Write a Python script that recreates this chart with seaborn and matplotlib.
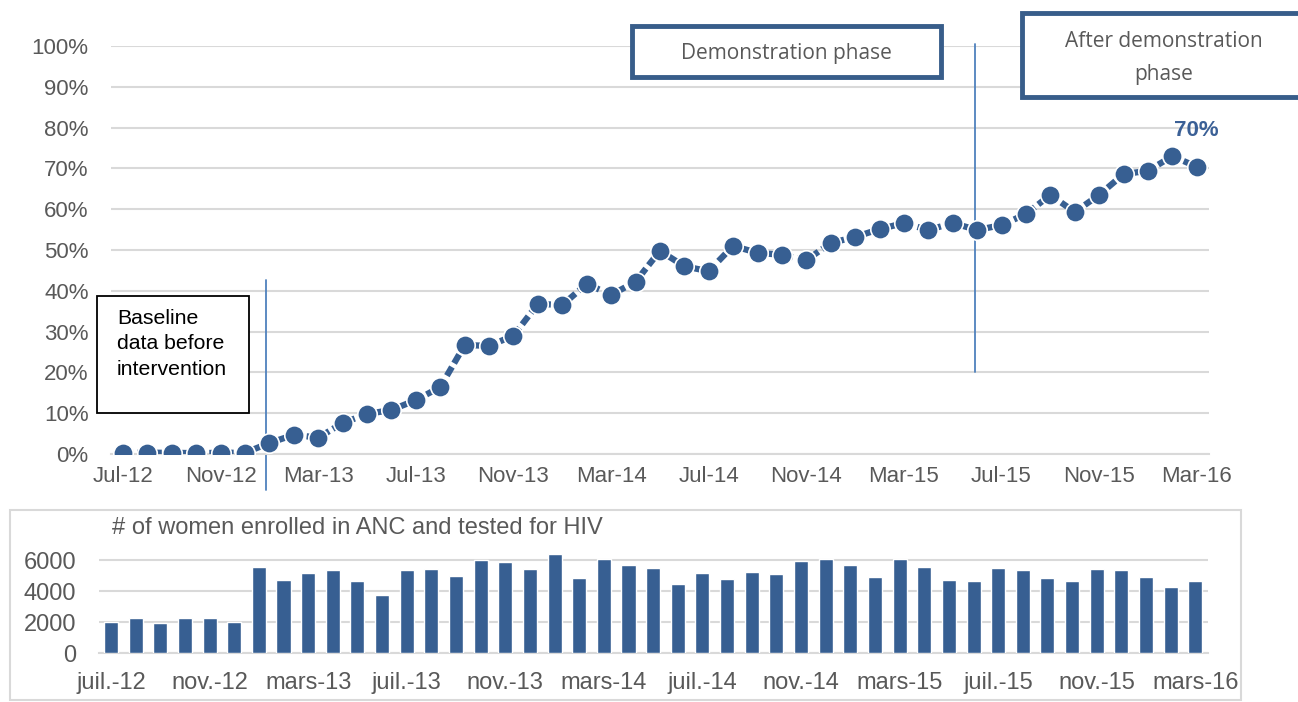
import matplotlib.pyplot as plt
import matplotlib.patches as mpatches
import matplotlib.ticker as mticker
import seaborn as sns
import pandas as pd

# monthly series, Jul-2012 .. Mar-2016
months = pd.date_range("2012-07-01", "2016-03-01", freq="MS")
pct_tested = [0.3, 0.3, 0.3, 0.2, 0.3, 0.3, 2.7, 4.7, 4.0, 7.6, 9.8, 10.8,
              13.2, 16.4, 26.7, 26.5, 29.0, 36.8, 36.5, 41.7, 39.0, 42.2, 49.8, 46.0,
              44.8, 51.0, 49.3, 48.8, 47.5, 51.7, 53.2, 55.1, 56.6, 54.9, 56.6, 54.9,
              56.1, 58.8, 63.5, 59.3, 63.5, 68.6, 69.4, 73.0, 70.4]
women_tested = [1970, 2250, 1950, 2270, 2270, 2030, 5520, 4680, 5150, 5350, 4660, 3750,
                5350, 5390, 4940, 6000, 5880, 5420, 6400, 4840, 6040, 5650, 5480, 4440,
                5160, 4770, 5200, 5110, 5950, 6040, 5670, 4900, 6060, 5540, 4680, 4640,
                5480, 5330, 4830, 4640, 5440, 5370, 4920, 4270, 4660]
top_tick_labels = ["Jul-12", "Nov-12", "Mar-13", "Jul-13", "Nov-13", "Mar-14",
                   "Jul-14", "Nov-14", "Mar-15", "Jul-15", "Nov-15", "Mar-16"]
bottom_tick_labels = ["juil.-12", "nov.-12", "mars-13", "juil.-13", "nov.-13", "mars-14",
                      "juil.-14", "nov.-14", "mars-15", "juil.-15", "nov.-15", "mars-16"]
pct_ticks = [0, 10, 20, 30, 40, 50, 60, 70, 80, 90, 100]
count_ticks = [0, 2000, 4000, 6000]

df = pd.DataFrame({"month": months, "pct": pct_tested, "women": women_tested})
df["pos"] = range(len(df))

BLUE = "#375F92"
GRID = "#D9D9D9"
TXT = "#595959"

sns.set_style("white")
plt.rcParams["font.family"] = ["Liberation Sans", "DejaVu Sans"]

fig = plt.figure(figsize=(12.98, 7.02), dpi=100)

# ---- top chart: % tested ----
ax = fig.add_axes([0.0854, 0.3533, 0.846, 0.5812])
sns.lineplot(data=df, x="pos", y="pct", ax=ax, color=BLUE, lw=4.5,
             linestyle=(0, (1.6, 0.7)), marker="o", markersize=14,
             markeredgecolor="white", markeredgewidth=1.2, zorder=3)
ax.set_xlim(-0.5, len(df) - 0.5)
ax.set_ylim(0, 100)
ax.set_yticks(pct_ticks)
ax.yaxis.set_major_formatter(mticker.FuncFormatter(lambda v, p: f"{int(v)}%"))
ax.grid(axis="y", color=GRID, lw=1.5)
label_pos = list(range(0, len(df), 4))
ax.set_xticks(label_pos)
ax.set_xticklabels(top_tick_labels)
ax.set_xticks([p - 0.5 for p in label_pos], minor=True)
ax.tick_params(axis="x", which="major", length=0, pad=9, labelsize=16, labelcolor=TXT)
ax.tick_params(axis="x", which="minor", length=5, width=1.2, color=GRID)
ax.tick_params(axis="y", length=0, pad=16, labelsize=16, labelcolor=TXT)
for s in ["top", "right", "left"]:
    ax.spines[s].set_visible(False)
ax.spines["bottom"].set_color(GRID)
ax.spines["bottom"].set_linewidth(1.5)
ax.set_xlabel("")
ax.set_ylabel("")

# last value label
ax.annotate(f"{int(pct_tested[-1])}%", (df["pos"].iloc[-1], pct_tested[-1]),
            xytext=(0, 26), textcoords="offset points", ha="center", va="center",
            fontsize=16, fontweight="bold", color="#3B6096")

# phase separators
ax.plot([5.85, 5.85], [42.7, -8.8], color="#4F81BD", lw=1.3, clip_on=False, zorder=2)
ax.plot([34.9, 34.9], [100.5, 20.1], color="#4F81BD", lw=1.3, clip_on=False, zorder=2)

# phase boxes (figure coordinates)
W, H = 1298, 702


def fig_box(x0, y0, x1, y1, ec, lw):
    r = mpatches.Rectangle((x0 / W, 1 - y1 / H), (x1 - x0) / W, (y1 - y0) / H,
                           transform=fig.transFigure, fill=True, fc="white",
                           ec=ec, lw=lw, zorder=5, clip_on=False)
    fig.patches.append(r)


fig_box(97, 296, 249, 413, "black", 1.3)
fig.text(117 / W, 1 - 309 / H, "Baseline\ndata before\nintervention", ha="left", va="top",
         fontsize=15.3, color="black", linespacing=1.42, zorder=6)
fig_box(632, 26, 941, 77, "#385D8A", 3.5)
fig.text(786 / W, 1 - 53 / H, "Demonstration phase", ha="center", va="center",
         fontsize=15, color=TXT, family=["Open Sans", "DejaVu Sans"], zorder=6)
fig_box(1022, 13, 1310, 97, "#385D8A", 3.5)
fig.text(1164 / W, 1 - 58 / H, "After demonstration\nphase", ha="center", va="center",
         fontsize=15, color=TXT, family=["Open Sans", "DejaVu Sans"], linespacing=1.75,
         zorder=6)

# ---- bottom chart: women tested ----
ax2 = fig.add_axes([0.076, 0.0698, 0.8544, 0.1457])
sns.barplot(data=df, x="pos", y="women", ax=ax2, color=BLUE, width=0.57,
            saturation=1, zorder=3)
ax2.set_xlim(-0.5, len(df) - 0.5)
ax2.set_ylim(0, 6600)
ax2.set_yticks(count_ticks)
ax2.grid(axis="y", color=GRID, lw=1.5)
ax2.set_axisbelow(True)
ax2.set_xticks(label_pos)
ax2.set_xticklabels(bottom_tick_labels)
ax2.set_xticks([p - 0.5 for p in label_pos], minor=True)
ax2.tick_params(axis="x", which="major", length=0, pad=14, labelsize=17, labelcolor=TXT)
ax2.tick_params(axis="x", which="minor", length=5, width=1.2, color=GRID)
ax2.tick_params(axis="y", length=0, pad=16, labelsize=17, labelcolor=TXT)
for s in ["top", "right", "left"]:
    ax2.spines[s].set_visible(False)
ax2.spines["bottom"].set_color(GRID)
ax2.spines["bottom"].set_linewidth(1.5)
ax2.set_xlabel("")
ax2.set_ylabel("")

fig.text(112 / W, 1 - 528 / H, "# of women enrolled in ANC and tested for HIV",
         ha="left", va="center", fontsize=17, color=TXT)
border = mpatches.Rectangle((10 / W, 0.003), (1241 - 10) / W, 1 - 510 / H - 0.003,
                            transform=fig.transFigure, fill=False, ec=GRID, lw=1.5)
fig.patches.append(border)

fig.savefig("out.png", dpi=100)
